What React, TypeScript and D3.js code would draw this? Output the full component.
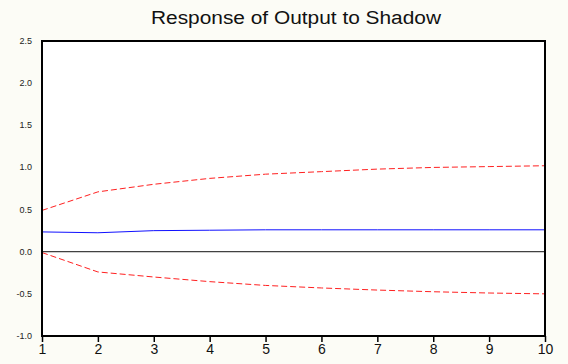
import React, { useEffect, useRef } from "react";
import * as d3 from "d3";

const periods = [1, 2, 3, 4, 5, 6, 7, 8, 9, 10];
const response = [0.235, 0.225, 0.25, 0.255, 0.26, 0.26, 0.26, 0.26, 0.26, 0.26];
const upperBand = [0.49, 0.71, 0.8, 0.87, 0.92, 0.95, 0.98, 1.0, 1.01, 1.02];
const lowerBand = [-0.01, -0.24, -0.3, -0.355, -0.4, -0.43, -0.455, -0.475, -0.49, -0.5];
const yTicks = [-1.0, -0.5, 0.0, 0.5, 1.0, 1.5, 2.0, 2.5];
const title = "Response of Output to Shadow";

const App: React.FC = () => {
  const ref = useRef<SVGSVGElement | null>(null);

  useEffect(() => {
    if (!ref.current) return;
    const width = 568,
      height = 364;
    const margin = { top: 41, right: 22, bottom: 28, left: 42 };

    const svg = d3.select(ref.current).attr("width", width).attr("height", height);
    svg.selectAll("*").remove();

    // page background (cream) + white plot area
    svg.append("rect").attr("width", width).attr("height", height).attr("fill", "#fcfcf6");

    const x = d3
      .scaleLinear()
      .domain([1, 10])
      .range([margin.left, width - margin.right - 1]);
    const y = d3
      .scaleLinear()
      .domain([-1, 2.5])
      .range([height - margin.bottom, margin.top]);

    svg
      .append("rect")
      .attr("x", x(1))
      .attr("y", y(2.5))
      .attr("width", x(10) - x(1))
      .attr("height", y(-1) - y(2.5))
      .attr("fill", "#ffffff");

    // zero line
    svg
      .append("line")
      .attr("x1", x(1))
      .attr("x2", x(10))
      .attr("y1", y(0))
      .attr("y2", y(0))
      .attr("stroke", "#111")
      .attr("stroke-width", 1);

    const line = d3
      .line<number>()
      .x((_, i) => x(periods[i]))
      .y((d) => y(d));

    svg
      .append("path")
      .datum(upperBand)
      .attr("fill", "none")
      .attr("stroke", "#ff2020")
      .attr("stroke-width", 1)
      .attr("stroke-dasharray", "6,3")
      .attr("d", line);

    svg
      .append("path")
      .datum(lowerBand)
      .attr("fill", "none")
      .attr("stroke", "#ff2020")
      .attr("stroke-width", 1)
      .attr("stroke-dasharray", "6,3")
      .attr("d", line);

    svg
      .append("path")
      .datum(response)
      .attr("fill", "none")
      .attr("stroke", "#1010ff")
      .attr("stroke-width", 1)
      .attr("d", line);

    // frame
    svg
      .append("rect")
      .attr("x", x(1))
      .attr("y", y(2.5))
      .attr("width", x(10) - x(1))
      .attr("height", y(-1) - y(2.5))
      .attr("fill", "none")
      .attr("stroke", "#000")
      .attr("stroke-width", 2);

    // y labels (no tick marks)
    svg
      .append("g")
      .selectAll("text")
      .data(yTicks)
      .join("text")
      .attr("x", x(1) - 10)
      .attr("y", (d) => y(d) + 3)
      .attr("text-anchor", "end")
      .attr("font-family", "Liberation Sans, Arial, sans-serif")
      .attr("font-size", 9)
      .attr("fill", "#222")
      .text((d) => d.toFixed(1));

    // x axis ticks and labels
    const xAxis = svg
      .append("g")
      .attr("transform", `translate(0,${y(-1)})`)
      .call(d3.axisBottom(x).tickValues(periods).tickFormat(d3.format("d")).tickSize(6).tickPadding(2));
    xAxis.select(".domain").remove();
    xAxis.selectAll("line").attr("stroke", "#000").attr("stroke-width", 1.5);
    xAxis
      .selectAll("text")
      .attr("font-family", "Liberation Sans, Arial, sans-serif")
      .attr("font-size", 14)
      .attr("fill", "#111");

    svg
      .append("text")
      .attr("x", 296)
      .attr("y", 24)
      .attr("text-anchor", "middle")
      .attr("font-family", "Liberation Sans, Arial, sans-serif")
      .attr("font-size", 18)
      .attr("textLength", 290)
      .attr("lengthAdjust", "spacingAndGlyphs")
      .attr("fill", "#111")
      .text(title);
  }, []);

  return <svg ref={ref} style={{ position: "absolute", left: 0, top: 0 }} />;
};

export default App;
